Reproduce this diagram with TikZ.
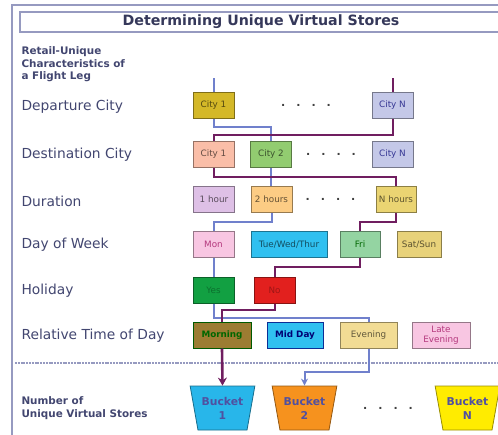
\documentclass[tikz,border=0pt]{standalone}
\usepackage{fontspec}
\setmainfont{DejaVu Sans}
\usepackage{tikz}
\usetikzlibrary{calc, positioning, arrows.meta, shapes.geometric}

\definecolor{frameC}{RGB}{150,154,192}
\definecolor{labelC}{RGB}{66,70,112}
\definecolor{lineBlue}{RGB}{112,128,204}
\definecolor{linePurple}{RGB}{112,30,96}
\definecolor{goldC}{RGB}{212,184,40}
\definecolor{lavC}{RGB}{196,200,232}
\definecolor{salmonC}{RGB}{250,190,168}
\definecolor{greenC}{RGB}{146,204,112}
\definecolor{lilacC}{RGB}{222,192,230}
\definecolor{peachC}{RGB}{252,204,132}
\definecolor{sandC}{RGB}{234,212,114}
\definecolor{pinkC}{RGB}{248,198,226}
\definecolor{cyanC}{RGB}{48,192,240}
\definecolor{mintC}{RGB}{148,212,162}
\definecolor{khakiC}{RGB}{232,210,122}
\definecolor{yesC}{RGB}{18,160,66}
\definecolor{noC}{RGB}{226,32,30}
\definecolor{oliveC}{RGB}{156,124,50}
\definecolor{paleC}{RGB}{242,220,148}
\definecolor{bucketCyan}{RGB}{40,182,234}
\definecolor{bucketOrange}{RGB}{246,146,30}
\definecolor{bucketYellow}{RGB}{255,236,0}
\definecolor{bucketText}{RGB}{80,80,160}

\begin{document}
\begin{tikzpicture}[
  x=1pt, y=-1pt,
  %% casillas de cada caracteristica
  cell/.style={
    rectangle, draw=#1!60!black, fill=#1, line width=1pt,
    text=#1!40!black, font=\fontsize{8.8}{10}\selectfont,
    minimum width=41pt, minimum height=26pt,
    inner sep=1pt, align=center
  },
  rowlabel/.style={
    anchor=west, text=labelC, font=\fontsize{13.8}{15}\selectfont
  },
  headlabel/.style={
    anchor=north west, text=labelC, align=left,
    font=\fontsize{10.4}{12.6}\selectfont\bfseries
  },
  bucket/.style={
    trapezium, shape border rotate=180, trapezium stretches=true,
    trapezium left angle=75, trapezium right angle=75,
    draw=#1!60!black, fill=#1, line width=0.8pt,
    minimum width=65pt, minimum height=44pt,
    text=bucketText, align=center,
    font=\fontsize{10.8}{14}\selectfont\bfseries
  },
  dots/.style={text=black!75, font=\fontsize{11}{11}\selectfont\bfseries},
  bline/.style={draw=lineBlue, line width=2pt},
  pline/.style={draw=linePurple, line width=2pt}
]
\useasboundingbox (0,0) rectangle (498,434);

%% ── Marco y titulo ─────────────────────────────────────────────────────────
\draw[frameC, line width=1.8pt] (12,440) -- (12,5) -- (510,5);
\draw[frameC, line width=1.4pt] (20,12) rectangle (510,32);
\node[text=labelC!80!black, font=\fontsize{14.2}{15}\selectfont\bfseries]
  (title) at (261,22) {Determining Unique Virtual Stores};

%% ── Etiquetas de la izquierda ─────────────────────────────────────────────
\node[headlabel] (head) at (18,43)
  {Retail-Unique\\Characteristics of\\a Flight Leg};
\node[rowlabel] (lDep)  at (18,107) {Departure City};
\node[rowlabel] (lDst)  at (18,155) {Destination City};
\node[rowlabel] (lDur)  at (18,201) {Duration};
\node[rowlabel] (lDay)  at (18,245) {Day of Week};
\node[rowlabel] (lHol)  at (18,291) {Holiday};
\node[rowlabel] (lTime) at (18,336) {Relative Time of Day};
\node[headlabel, anchor=west] (lNum) at (18,408)
  {Number of\\Unique Virtual Stores};

%% ── Ciudad de salida ──────────────────────────────────────────────────────
\node[cell=goldC] (dep1) at (213.5,105) {City 1};
\node[cell=lavC, text=lavC!45!blue!60!black] (depN) at (392.5,105) {City N};
\node[dots] (dotsDep) at (306,105) {.\hspace{11pt}.\hspace{11pt}.\hspace{11pt}.};

%% ── Ciudad de destino ─────────────────────────────────────────────────────
\node[cell=salmonC] (dst1) at (213.5,154.5) {City 1};
\node[cell=greenC]  (dst2) at (271,154.5) {City 2};
\node[cell=lavC, text=lavC!45!blue!60!black] (dstN) at (392.5,154.5) {City N};
\node[dots] (dotsDst) at (331,154) {.\hspace{11pt}.\hspace{11pt}.\hspace{11pt}.};

%% ── Duracion ──────────────────────────────────────────────────────────────
\node[cell=lilacC] (dur1) at (214,199.5) {1 hour};
\node[cell=peachC] (dur2) at (271.5,199.5) {2 hours};
\node[cell=sandC, minimum width=40pt] (durN) at (396,199.5) {N hours};
\node[dots] (dotsDur) at (330.5,199) {.\hspace{11pt}.\hspace{11pt}.\hspace{11pt}.};

%% ── Dia de la semana ──────────────────────────────────────────────────────
\node[cell=pinkC, text=magenta!70!black] (mon) at (213.5,244.5) {Mon};
\node[cell=cyanC, minimum width=76pt] (tue) at (289,244.5) {Tue/Wed/Thur};
\node[cell=mintC, minimum width=40pt, text=green!40!black] (fri) at (360,244.5) {Fri};
\node[cell=khakiC, minimum width=44pt] (sat) at (419,244.5) {Sat/Sun};

%% ── Festivo ───────────────────────────────────────────────────────────────
\node[cell=yesC, text=yesC!70!black] (yes) at (213.5,290) {Yes};
\node[cell=noC, text=noC!70!black]  (no)  at (274.5,290) {No};

%% ── Hora relativa del dia ─────────────────────────────────────────────────
\node[cell=oliveC, minimum width=58pt, draw=green!35!black,
      text=green!40!black, font=\fontsize{8.8}{10}\selectfont\bfseries]
  (morn) at (222,335) {Morning};
\node[cell=cyanC, minimum width=56pt, draw=blue!60!cyanC!60!black,
      text=blue!45!black, font=\fontsize{8.8}{10}\selectfont\bfseries]
  (mid) at (295,335) {Mid Day};
\node[cell=paleC, minimum width=57pt] (eve) at (368.5,335) {Evening};
\node[cell=pinkC, minimum width=58pt, text=magenta!70!black] (late) at (441,335)
  {Late\\Evening};

%% ── Separador ─────────────────────────────────────────────────────────────
\draw[frameC, line width=1.2pt, dash pattern=on 2pt off 0.8pt] (15,363) -- (500,363);

%% ── Cubetas ───────────────────────────────────────────────────────────────
\node[bucket=bucketCyan]   (b1) at (222.5,408) {Bucket\\1};
\node[bucket=bucketOrange] (b2) at (304.5,408) {Bucket\\2};
\node[bucket=bucketYellow] (bN) at (467.5,408) {Bucket\\N};
\node[dots] (dotsB) at (388,408) {.\hspace{11pt}.\hspace{11pt}.\hspace{11pt}.};

%% ────────────────── CONECTORES ─────────────────────────────────────────────
\coordinate (inBlue)   at (213.5,78);
\coordinate (inPurple) at (392.5,78);

%% camino azul
\draw[bline] (inBlue) -- (dep1.north);
\draw[bline] (dep1.south) -- ++(0,8.5) -| (dst2.north);
\draw[bline] (dst2.south) -- (dst2.south |- dur2.north);
\draw[bline] (dur2.south) -- ++(0,9) -| (mon.north);
\draw[bline] (mon.south) -- (yes.north);
\draw[bline] (yes.south) -- ++(0,14) -| (eve.north);
\draw[bline, -{Stealth[length=7pt, width=7pt]}]
  (eve.south) -- ++(0,23) -| (b2.north);

%% camino morado
\draw[pline] (inPurple) -- (depN.north);
\draw[pline] (depN.south) -- ++(0,16) -| (dst1.north);
\draw[pline] (dst1.south) -- ++(0,9) -| (durN.north);
\draw[pline] (durN.south) -- ++(0,9) -| (fri.north);
\draw[pline] (fri.south) -- ++(0,9) -| (no.north);
\draw[pline] (no.south) -- ++(0,6) -| (morn.north);
\draw[pline, line width=2.6pt, -{Stealth[length=8pt, width=9pt]}]
  (morn.south) -- (b1.north);

\end{tikzpicture}
\end{document}
